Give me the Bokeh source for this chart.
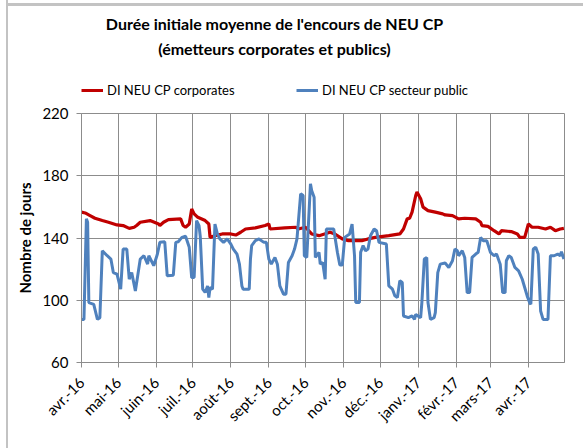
import pandas as pd
from bokeh.plotting import figure
from bokeh.layouts import column
from bokeh.models import (Range1d, FixedTicker, CustomJSTickFormatter, Label,
                          Legend, LegendItem, ColumnDataSource)
from bokeh.embed import file_html
from bokeh.resources import INLINE

# ---------------- données ----------------
titre_1 = "Durée initiale moyenne de l'encours de NEU CP"
titre_2 = "(émetteurs corporates et publics)"
serie_corp = "DI NEU CP corporates"
serie_pub = "DI NEU CP secteur public"
axe_y = "Nombre de jours"
mois = ["janv.", "févr.", "mars", "avr.", "mai", "juin", "juil.", "août",
        "sept.", "oct.", "nov.", "déc."]
y_ticks = [60, 100, 140, 180, 220]
origine = "2016-04-01"
debut_ticks = "2016-04-01"
fin_ticks = "2017-04-01"
fin_axe = "2017-04-30 12:00"

# jours écoulés depuis le 1er avril 2016
jours_corp = [0, 3, 7, 11, 17, 22, 29, 34, 39, 43, 45, 48, 56, 63, 64, 67, 71, 81,
              83, 85, 88, 90, 92, 95, 101, 104, 105, 109, 115, 122, 126, 130, 134,
              142, 150, 153, 154, 166, 175, 177, 183, 188, 194, 203, 207, 213, 218,
              229, 234, 240, 251, 260, 263, 266, 268, 270, 273, 274, 277, 279, 283,
              289, 295, 297, 303, 308, 313, 322, 326, 327, 332, 337, 341, 343, 351,
              356, 358, 362, 365, 368, 373, 379, 383, 387, 391, 394]
di_corp = [156.6, 156.1, 154.4, 152.7, 151.2, 150.1, 148.4, 148.0, 146.2, 146.9,
           148.0, 150.1, 151.2, 149.0, 148.0, 150.1, 151.8, 152.3, 148.0, 146.9,
           149.0, 158.7, 155.5, 153.3, 151.2, 149.0, 140.4, 141.5, 142.6, 142.6,
           141.9, 143.7, 145.8, 146.5, 148.0, 149.0, 145.8, 146.5, 146.9, 145.8,
           146.9, 142.6, 141.5, 143.7, 142.6, 139.4, 138.3, 138.3, 139.4, 140.4,
           141.5, 142.6, 145.8, 152.3, 152.7, 156.6, 167.3, 169.5, 165.2, 159.8,
           157.6, 156.6, 155.5, 154.8, 154.4, 152.3, 152.7, 152.3, 150.1, 148.0,
           147.5, 144.7, 142.6, 144.7, 144.1, 142.6, 140.4, 140.4, 149.0, 146.9,
           146.9, 145.8, 146.9, 144.7, 145.8, 146.2]

jours_pub = [0, 2, 4, 5, 6, 10, 13, 15, 17, 21, 24, 26, 29, 32, 34, 37, 39, 41, 44,
             48, 51, 54, 55, 59, 62, 64, 68, 70, 75, 77, 79, 82, 85, 88, 90, 92, 94,
             96, 97, 99, 101, 103, 104, 105, 107, 109, 111, 113, 116, 119, 122, 124,
             127, 129, 131, 132, 137, 138, 139, 142, 145, 149, 151, 153, 155, 158,
             160, 162, 165, 167, 169, 172, 174, 176, 179, 181, 182, 184, 187, 188,
             190, 191, 194, 195, 197, 199, 200, 206, 209, 211, 213, 215, 219, 221,
             223, 224, 227, 228, 230, 232, 234, 236, 239, 241, 243, 249, 251, 254,
             256, 258, 260, 262, 263, 267, 270, 272, 273, 277, 278, 280, 282, 283,
             285, 288, 289, 291, 293, 297, 300, 303, 305, 307, 308, 311, 313, 315,
             317, 319, 322, 324, 326, 328, 331, 334, 337, 339, 342, 344, 346, 347,
             349, 351, 354, 357, 360, 362, 364, 366, 367, 369, 371, 373, 375, 377,
             381, 383, 386, 389, 391, 392, 394]
di_pub = [87.7, 87.7, 152.3, 150.1, 98.5, 97.4, 87.7, 88.8, 131.8, 128.6, 126.5,
          117.8, 116.8, 107.1, 132.9, 132.9, 113.5, 117.8, 106.0, 126.5, 128.6,
          123.2, 128.6, 122.2, 129.7, 137.2, 137.6, 115.7, 116.1, 137.2, 137.6,
          140.4, 141.1, 134.0, 114.6, 114.6, 151.2, 148.0, 141.0, 107.1, 105.0,
          109.2, 101.7, 108.2, 107.1, 149.0, 142.6, 139.4, 137.2, 139.4, 136.1,
          132.9, 129.7, 123.2, 109.2, 107.1, 107.1, 126.5, 135.1, 138.3, 139.4,
          137.2, 137.2, 126.5, 123.2, 127.5, 123.2, 109.2, 103.9, 103.9, 124.3,
          128.6, 132.9, 139.4, 168.4, 167.3, 128.6, 127.5, 174.8, 170.5, 166.2,
          127.5, 130.8, 123.2, 124.3, 113.5, 145.8, 145.8, 130.8, 122.6, 122.6,
          140.4, 142.6, 149.0, 128.6, 98.5, 98.5, 130.8, 135.1, 131.8, 132.9,
          141.5, 145.8, 144.7, 137.2, 136.1, 109.2, 107.1, 102.8, 101.7, 112.5,
          111.4, 89.9, 88.8, 89.9, 87.7, 90.9, 88.8, 98.5, 126.5, 127.5, 98.5,
          87.7, 88.8, 92.0, 117.8, 123.2, 123.9, 121.1, 125.4, 132.9, 131.8,
          128.6, 131.8, 127.5, 104.9, 104.9, 127.5, 129.7, 130.8, 140.4, 138.3,
          138.3, 130.8, 128.6, 129.7, 123.2, 104.9, 104.9, 125.4, 128.6, 127.5,
          121.1, 118.9, 113.5, 108.2, 102.8, 98.5, 97.4, 132.9, 134.0, 129.7,
          93.1, 87.7, 87.7, 128.6, 128.6, 129.7, 128.6, 131.2, 126.5]

# ---------------- construction ----------------
t0 = pd.Timestamp(origine)
src_corp = ColumnDataSource(dict(x=(t0 + pd.to_timedelta(jours_corp, unit="D")).to_numpy(),
                                 y=di_corp))
src_pub = ColumnDataSource(dict(x=(t0 + pd.to_timedelta(jours_pub, unit="D")).to_numpy(),
                                y=di_pub))

FONT = "Lato"
GRID = "#8c8c8c"
RED = "#C00000"
BLUE = "#4F81BD"

# ---- en-tête : titre + légende (cadre aligné sur celui du graphique) ----
h = figure(width=583, height=103, x_range=Range1d(0, 1), y_range=Range1d(0, 1),
           output_backend="svg", toolbar_location=None, title=None,
           x_axis_location=None, y_axis_location=None,
           min_border_left=81, min_border_right=19, min_border_top=0,
           min_border_bottom=0)
h.grid.visible = False
h.outline_line_color = None
h.background_fill_alpha = 0
h.border_fill_alpha = 0

for txt, yy in ((titre_1, 80), (titre_2, 55)):
    h.add_layout(Label(x=193, y=yy, x_units="screen", y_units="screen", text=txt,
                       text_align="center", text_baseline="middle",
                       text_font=FONT, text_font_size="16px",
                       text_font_style="bold", text_color="#000000"))

# échantillons de légende hors du domaine visible
k_corp = h.line(x=[5, 6], y=[5, 6], line_color=RED, line_width=3)
k_pub = h.line(x=[5, 6], y=[5, 6], line_color=BLUE, line_width=3)
legend = Legend(items=[LegendItem(label=serie_corp, renderers=[k_corp]),
                       LegendItem(label=serie_pub, renderers=[k_pub])],
                location=(0, 3), orientation="horizontal",
                padding=0, margin=0, spacing=0, label_standoff=4,
                glyph_width=22, glyph_height=20, label_height=20, label_width=189,
                border_line_color=None, background_fill_alpha=0,
                label_text_font=FONT, label_text_font_size="13px",
                label_text_color="#000000")
h.add_layout(legend)

# ---- graphique ----
p = figure(width=583, height=345, x_axis_type="datetime",
           x_range=Range1d(pd.Timestamp(origine), pd.Timestamp(fin_axe)),
           y_range=Range1d(y_ticks[0], y_ticks[-1]),
           output_backend="svg", toolbar_location=None, title=None,
           min_border_left=81, min_border_right=19,
           min_border_top=10, min_border_bottom=86)
p.background_fill_color = "white"
p.border_fill_alpha = 0
p.outline_line_color = GRID
p.outline_line_width = 1

p.line("x", "y", source=src_corp, line_color=RED, line_width=3.2)
p.line("x", "y", source=src_pub, line_color=BLUE, line_width=3)

month_starts = pd.date_range(debut_ticks, fin_ticks, freq="MS")
p.xaxis.ticker = FixedTicker(ticks=[d.timestamp() * 1000 for d in month_starts])
p.xaxis.formatter = CustomJSTickFormatter(args=dict(mois=mois), code="""
const d = new Date(tick);
return mois[d.getUTCMonth()] + "-" + String(d.getUTCFullYear()).slice(2);
""")
p.xaxis.major_label_orientation = 0.785398
p.yaxis.ticker = FixedTicker(ticks=y_ticks)
p.yaxis.axis_label = axe_y

for ax in (p.xaxis[0], p.yaxis[0]):
    ax.axis_line_color = GRID
    ax.major_tick_line_color = GRID
    ax.major_tick_out = 5
    ax.major_tick_in = 0
    ax.minor_tick_line_color = None
    ax.major_label_text_font = FONT
    ax.major_label_text_font_size = "15px"
    ax.major_label_text_color = "#000000"
p.xaxis.major_label_standoff = 12
p.yaxis.major_label_standoff = 8
p.yaxis.axis_label_text_font = FONT
p.yaxis.axis_label_text_font_size = "15px"
p.yaxis.axis_label_text_font_style = "bold"
p.yaxis.axis_label_text_color = "#000000"
p.yaxis.axis_label_standoff = 5

p.xgrid.grid_line_color = GRID
p.ygrid.grid_line_color = GRID

page = column(h, p, spacing=0, styles={
    "background": ("linear-gradient(#c3c3c3, #c3c3c3) 7px 3px / 576px 3px no-repeat, "
                   "linear-gradient(#c3c3c3, #c3c3c3) 6px 0px / 2px 448px no-repeat, "
                   "white")})

open("out.html", "w").write(file_html(page, INLINE))
